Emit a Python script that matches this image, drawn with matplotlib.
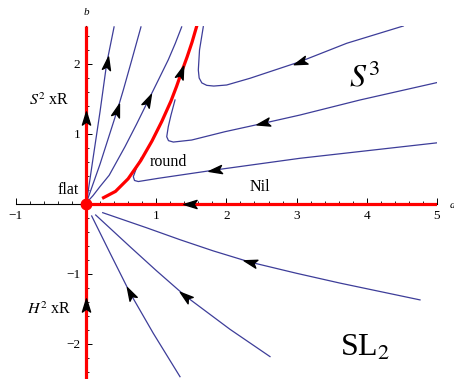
import numpy as np
import matplotlib
matplotlib.use('Agg')
import matplotlib.pyplot as plt
from matplotlib.path import Path
from matplotlib.markers import MarkerStyle
from matplotlib.transforms import Affine2D
from matplotlib.ticker import MultipleLocator, FixedLocator

plt.rcParams['font.family'] = ['Liberation Serif', 'DejaVu Serif']
plt.rcParams['mathtext.fontset'] = 'stix'

# trayectorias (a, b)
c1_a = [0.01, 0.10, 0.20, 0.295, 0.40]
c1_b = [0.04, 0.65, 1.32, 2.01, 2.53]

c2_a = [0.01, 0.20, 0.446, 0.532, 0.65, 0.783]
c2_b = [0.03, 0.57, 1.34, 1.63, 2.05, 2.53]

c3_a = [0.01, 0.10, 0.20, 0.33, 0.556, 0.72, 0.887, 1.03, 1.172, 1.27, 1.363]
c3_b = [0.02, 0.12, 0.25, 0.41, 0.82, 1.14, 1.48, 1.77, 2.06, 2.29, 2.53]

round_a = [0.23, 0.42, 0.60, 0.78, 0.94, 1.08, 1.21, 1.29, 1.36, 1.44, 1.51, 1.58]
round_b = [0.08, 0.18, 0.36, 0.62, 0.90, 1.18, 1.47, 1.68, 1.88, 2.10, 2.31, 2.55]

c5_a = [1.671, 1.617, 1.600, 1.612, 1.65, 1.72, 1.82, 2.004, 2.336, 3.048, 3.714, 4.52]
c5_b = [2.533, 2.20, 1.914, 1.80, 1.73, 1.695, 1.685, 1.70, 1.796, 2.033, 2.296, 2.543]

c6_a = [1.268, 1.211, 1.172, 1.15, 1.175, 1.244, 1.506, 1.98, 2.526, 3.048, 3.903, 5.019]
c6_b = [1.486, 1.271, 1.104, 0.961, 0.905, 0.885, 0.914, 1.033, 1.153, 1.271, 1.486, 1.739]

c7_a = [0.783, 0.719, 0.674, 0.691, 0.745, 1.03, 1.838, 3.048, 5.019]
c7_b = [0.653, 0.514, 0.39, 0.336, 0.321, 0.367, 0.486, 0.653, 0.876]

c8_a = [0.238, 0.864, 1.339, 1.813, 2.336, 3.0, 3.618, 4.758]
c8_b = [-0.124, -0.34, -0.51, -0.67, -0.83, -0.99, -1.13, -1.37]

c9_a = [0.138, 0.627, 1.0, 1.41, 2.051, 2.621]
c9_b = [-0.157, -0.61, -0.95, -1.31, -1.79, -2.18]

c10_a = [0.081, 0.342, 0.627, 0.959, 1.339]
c10_b = [-0.171, -0.70, -1.27, -1.848, -2.467]

# ejes rojos (Nil, S2xR, H2xR) y punto plano
nil_a = [0.0, 1.48, 5.0]
nil_b = [0.0, 0.0, 0.0]
sxr_a = [0.0, 0.0, 0.0]
sxr_b = [0.0, 1.23, 2.55]
hxr_a = [0.0, 0.0, 0.0]
hxr_b = [-2.5, -1.44, 0.0]
flat_a = [0.0]
flat_b = [0.0]

x_ticks = [-1, 1, 2, 3, 4, 5]
y_ticks = [-2, -1, 1, 2]

BLUE = '#3d3d99'
RED = '#ff0000'

fig = plt.figure(figsize=(4.54, 3.79), dpi=100)
ax = fig.add_axes([15.8 / 454, 0, 421.2 / 454, 353.5 / 379])
ax.set_xlim(-1, 5)
ax.set_ylim(-2.5, 2.55)

for s in ['top', 'right']:
    ax.spines[s].set_visible(False)
ax.spines['left'].set_position(('data', 0))
ax.spines['bottom'].set_position(('data', 0))
for s in ['left', 'bottom']:
    ax.spines[s].set_linewidth(0.8)

ax.xaxis.set_major_locator(FixedLocator(x_ticks))
ax.yaxis.set_major_locator(FixedLocator(y_ticks))
ax.set_xticklabels(['\u2212' + str(-t) if t < 0 else str(t) for t in x_ticks])
ax.set_yticklabels(['\u2212' + str(-t) if t < 0 else str(t) for t in y_ticks])
ax.xaxis.set_minor_locator(MultipleLocator(0.2))
ax.yaxis.set_minor_locator(MultipleLocator(0.2))
ax.tick_params(which='major', direction='in', length=4, width=0.7, labelsize=9.5, pad=4)
ax.tick_params(which='minor', direction='in', length=2.2, width=0.6)

# flechas
head = Path([(1, 0), (-1, 0.62), (-0.55, 0), (-1, -0.62), (1, 0)],
            [Path.MOVETO, Path.LINETO, Path.LINETO, Path.LINETO, Path.CLOSEPOLY])


def flow_arrow(a, b, i, sign):
    p0 = ax.transData.transform((a[i - 1], b[i - 1]))
    p1 = ax.transData.transform((a[i + 1], b[i + 1]))
    d = (p1 - p0) * sign
    ang = np.degrees(np.arctan2(d[1], d[0]))
    m = MarkerStyle(head, transform=Affine2D().rotate_deg(ang))
    ax.plot([a[i]], [b[i]], marker=m, color='k', markersize=9.5,
            linestyle='none', zorder=6, clip_on=False)


blue_curves = [
    (c1_a, c1_b, 3, 1),
    (c2_a, c2_b, 2, 1),
    (c3_a, c3_b, 6, 1),
    (c5_a, c5_b, 9, -1),
    (c6_a, c6_b, 8, -1),
    (c7_a, c7_b, 6, -1),
    (c8_a, c8_b, 4, -1),
    (c9_a, c9_b, 3, -1),
    (c10_a, c10_b, 2, -1),
]
for a, b, i, sg in blue_curves:
    ax.plot(a, b, color=BLUE, lw=0.9, zorder=2, solid_joinstyle='round')
    flow_arrow(a, b, i, sg)

for a, b, i, sg in [(round_a, round_b, 8, 1), (nil_a, nil_b, 1, -1),
                    (sxr_a, sxr_b, 1, 1), (hxr_a, hxr_b, 1, 1)]:
    ax.plot(a, b, color=RED, lw=2.3, zorder=4, solid_capstyle='butt',
            solid_joinstyle='round')
    flow_arrow(a, b, i, sg)

ax.plot(flat_a, flat_b, 'o', color=RED, markersize=7.5, zorder=7, clip_on=False)

# textos
ax.text(0, 2.74, 'b', style='italic', fontsize=8, ha='center', va='center')
ax.text(5.22, -0.02, 'a', style='italic', fontsize=8, ha='center', va='center')
ax.text(-0.26, 0.2, 'flat', fontsize=11.5, ha='center', va='center')
ax.text(-0.53, 1.47, '$S^2$ xR', fontsize=11.5, ha='center', va='center')
ax.text(1.18, 0.6, 'round', fontsize=11.5, ha='center', va='center')
ax.text(2.48, 0.24, 'Nil', fontsize=11.5, ha='center', va='center')
ax.text(3.97, 1.8, '$S^3$', fontsize=23, ha='center', va='center')
ax.text(-0.53, -1.51, '$H^2$ xR', fontsize=11.5, ha='center', va='center')
ax.text(3.97, -2.06, 'SL$_2$', fontsize=23, ha='center', va='center')

fig.savefig('out.png', dpi=100)
